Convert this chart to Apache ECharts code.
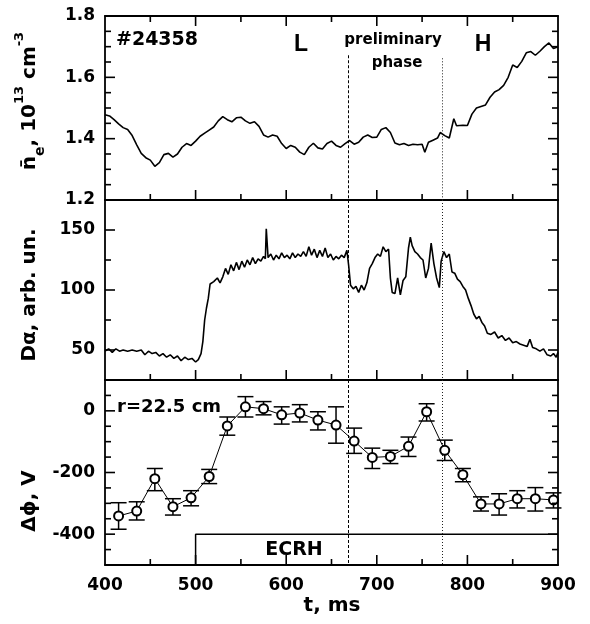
<!DOCTYPE html>
<html><head><meta charset="utf-8">
<script src="https://cdn.jsdelivr.net/npm/echarts@6/dist/echarts.min.js"></script>
<style>html,body{margin:0;padding:0;background:#fff}#c{width:590px;height:624px}</style>
</head><body><div id="c"></div>
<script>
// ---- data ----
const shotLabel = '#24358';
const neSeries = [
[400,1.478],[405,1.474],[410,1.462],[415,1.448],[420,1.436],[425,1.430],[430,1.410],[435,1.380],[440,1.352],[445,1.338],
[450,1.330],[455,1.310],[460,1.322],[465,1.348],[470,1.352],[475,1.340],[480,1.350],[485,1.372],[490,1.384],[495,1.378],
[500,1.392],[505,1.408],[510,1.418],[515,1.428],[520,1.438],[525,1.458],[530,1.472],[535,1.462],[540,1.455],[545,1.468],
[550,1.470],[555,1.458],[560,1.450],[565,1.455],[570,1.440],[575,1.412],[580,1.405],[585,1.412],[590,1.408],[595,1.384],
[600,1.368],[605,1.378],[610,1.372],[615,1.356],[620,1.348],[625,1.372],[630,1.385],[635,1.370],[640,1.366],[645,1.384],
[650,1.392],[655,1.378],[660,1.372],[665,1.384],[670,1.394],[675,1.382],[680,1.388],[685,1.405],[690,1.412],[695,1.404],
[700,1.405],[705,1.430],[710,1.436],[715,1.420],[720,1.386],[725,1.380],[730,1.384],[735,1.378],[740,1.382],[745,1.380],
[750,1.382],[753,1.356],[757,1.388],[762,1.395],[767,1.402],[770,1.420],[775,1.410],[780,1.402],[785,1.465],[788,1.442],
[795,1.444],[800,1.443],[805,1.480],[810,1.500],[815,1.505],[820,1.510],[825,1.535],[830,1.552],[835,1.560],[840,1.574],
[845,1.600],[850,1.640],[855,1.632],[860,1.652],[865,1.680],[870,1.684],[875,1.672],[880,1.685],[885,1.700],[890,1.712],
[895,1.694],[900,1.700]
];
const daSeries = [
[400,49],[404,51],[408,48],[412,51],[416,49],[420,50],[425,49],[430,50],[435,49],[440,50],[444,46],[448,49],[452,47],[456,48],
[460,45],[464,47],[468,44],[472,46],[476,43],[480,45],[484,41],[488,44],[492,42],[496,43],[500,40],[503,42],[506,47],[508,57],
[510,75],[512,85],[514,93],[516,105],[520,107],[524,110],[527,106],[530,111],[533,118],[536,113],[539,121],[542,116],[545,123],
[548,117],[551,124],[554,119],[557,125],[560,121],[563,127],[566,122],[569,126],[572,124],[575,128],[577,126],[578,151],[580,127],
[583,130],[586,125],[589,129],[592,126],[595,131],[598,127],[601,129],[604,126],[607,131],[610,127],[613,130],[616,128],[619,132],
[622,128],[625,136],[628,129],[631,134],[634,127],[637,133],[640,128],[643,135],[646,127],[649,130],[652,125],[655,128],[658,126],
[661,129],[664,127],[667,133],[669,120],[671,104],[674,101],[677,103],[680,98],[683,104],[686,100],[689,106],[692,118],[695,122],
[698,127],[701,130],[704,128],[707,136],[710,132],[713,134],[715,110],[717,98],[720,97],[723,110],[726,96],[729,108],[732,111],
[735,135],[737,144],[739,137],[742,132],[745,130],[748,127],[751,125],[754,110],[757,118],[760,139],[763,122],[766,110],[769,102],
[771,124],[774,132],[777,127],[780,130],[783,115],[786,114],[789,109],[792,107],[795,103],[798,100],[801,93],[804,87],[807,80],
[810,76],[813,78],[816,73],[819,70],[822,64],[826,63],[830,65],[834,60],[838,62],[842,58],[846,60],[850,56],[854,57],[858,55],
[862,54],[866,53],[869,59],[872,52],[876,51],[880,49],[884,51],[888,46],[892,45],[895,47],[898,44],[900,48]
];
const phiTimes = [415,435,455,475,495,515,535,555,575,595,615,635,655,675,695,715,735,755,775,795,815,835,855,875,895];
const phiValues = [-341,-325,-220,-311,-282,-213,-49,13,7,-13,-7,-30,-46,-98,-151,-148,-115,-3,-128,-207,-302,-302,-285,-285,-289];
const phiHigh = [-298,-295,-187,-285,-259,-190,-20,46,30,13,20,-3,13,-56,-121,-128,-85,23,-95,-187,-279,-269,-259,-249,-266];
const phiLow  = [-384,-354,-259,-338,-308,-236,-79,-20,-13,-43,-36,-62,-105,-138,-187,-171,-148,-33,-161,-230,-325,-338,-315,-325,-315];
const phaseStart = 668, phaseEnd = 772;
const ecrhStart = 500, ecrhLevel = -400;
const neTicks = [1.2, 1.4, 1.6, 1.8];
const daTicks = [50, 100, 150];
const phiTicks = [-400, -200, 0];
const timeTicks = [400, 500, 600, 700, 800, 900];

// ---- chart ----
const BLACK = '#000';
const FONT = 'DejaVu Sans';
const labelFont = {color: BLACK, fontFamily: FONT, fontWeight: 'bold', fontSize: 17};
const T_MIN = 400, T_MAX = 900;

function yAxesFor(g, min, max, majors, fmt) {
  const base = {type: 'value', gridIndex: g, min, max, splitLine: {show: false},
    axisLine: {show: true, onZero: false, lineStyle: {color: BLACK, width: 1.8}},
    axisTick: {show: false}, minorTick: {show: false}};
  return [
    Object.assign({}, base, {position: 'left',
      axisLabel: Object.assign({show: true, customValues: majors, margin: 10, formatter: fmt}, labelFont)}),
    Object.assign({}, base, {position: 'right', axisLabel: {show: false}})
  ];
}
function xAxisFor(g, pos, showLabels) {
  return {type: 'value', gridIndex: g, position: pos, min: T_MIN, max: T_MAX, interval: 100,
    splitLine: {show: false},
    axisLine: {show: true, onZero: false, lineStyle: {color: BLACK, width: 1.8}},
    axisTick: {show: false}, minorTick: {show: false},
    axisLabel: Object.assign({show: showLabels, customValues: timeTicks, margin: 12}, labelFont)};
}

// inward tick marks on all frame sides, placed through the axes' own scales
function tickMarks(xIdx, yIdx, yMin, yMax, yStep, yMajors, withTop) {
  const data = [];
  const n = Math.round((yMax - yMin) / yStep);
  for (let i = 1; i < n; i++) {
    const v = +(yMin + i * yStep).toFixed(6);
    data.push([0, v, yMajors.some(m => Math.abs(m - v) < 1e-6) ? 1 : 0]);
  }
  for (let t = T_MIN + 50; t < T_MAX; t += 50) data.push([1, t, t % 100 === 0 ? 1 : 0]);
  const st = {stroke: BLACK, lineWidth: 1.6};
  return {type: 'custom', xAxisIndex: xIdx, yAxisIndex: yIdx, data, silent: true, z: 10,
    encode: {x: 1, y: 1},
    renderItem: (params, api) => {
      const kind = api.value(0), v = api.value(1), L = api.value(2) ? 10 : 6;
      const kids = [];
      if (kind === 0) {
        const a = api.coord([T_MIN, v]), b = api.coord([T_MAX, v]);
        kids.push({type: 'line', shape: {x1: a[0], y1: a[1], x2: a[0] + L, y2: a[1]}, style: st});
        kids.push({type: 'line', shape: {x1: b[0] - L, y1: b[1], x2: b[0], y2: b[1]}, style: st});
      } else {
        const a = api.coord([v, yMin]);
        kids.push({type: 'line', shape: {x1: a[0], y1: a[1], x2: a[0], y2: a[1] - L}, style: st});
        if (withTop) {
          const b = api.coord([v, yMax]);
          kids.push({type: 'line', shape: {x1: b[0], y1: b[1], x2: b[0], y2: b[1] + L}, style: st});
        }
      }
      return {type: 'group', children: kids};
    }};
}

const grids = [
  {left: 105, width: 453, top: 16, height: 184},
  {left: 105, width: 453, top: 200, height: 180},
  {left: 105, width: 453, top: 380, height: 185}
];

const vline1 = {type: [3, 2], color: BLACK, width: 1};
const vline2 = {type: [1, 2], color: '#222', width: 1};
function phaseLines(yTop, yBot) {
  return {symbol: 'none', silent: true, label: {show: false}, animation: false,
    data: [
      [{coord: [phaseStart, yTop[0]], lineStyle: vline1}, {coord: [phaseStart, yBot]}],
      [{coord: [phaseEnd, yTop[1]], lineStyle: vline2}, {coord: [phaseEnd, yBot]}]
    ]};
}

const errData = phiTimes.map((t, i) => [t, phiLow[i], phiHigh[i]]);
const phiData = phiTimes.map((t, i) => [t, phiValues[i]]);

const option = {
  animation: false,
  backgroundColor: '#fff',
  grid: grids,
  xAxis: [xAxisFor(0, 'bottom', false), xAxisFor(0, 'top', false),
          xAxisFor(1, 'bottom', false), xAxisFor(2, 'bottom', true)],
  yAxis: [].concat(
    yAxesFor(0, 1.2, 1.8, neTicks, v => v.toFixed(1)),
    yAxesFor(1, 25, 175, daTicks, v => String(Math.round(v))),
    yAxesFor(2, -500, 100, phiTicks, v => String(Math.round(v)))
  ),
  series: [
    {type: 'line', xAxisIndex: 0, yAxisIndex: 0, data: neSeries, showSymbol: false,
     lineStyle: {color: BLACK, width: 1.6}, markLine: phaseLines([1.672, 1.662], 1.2)},
    {type: 'line', xAxisIndex: 2, yAxisIndex: 2, data: daSeries, showSymbol: false,
     lineStyle: {color: BLACK, width: 1.6}, markLine: phaseLines([175, 175], 25)},
    {type: 'line', xAxisIndex: 3, yAxisIndex: 4, data: [[ecrhStart, -500], [ecrhStart, ecrhLevel], [T_MAX, ecrhLevel]],
     showSymbol: false, lineStyle: {color: BLACK, width: 1.5},
     markLine: phaseLines([100, 100], -500)},
    {type: 'custom', xAxisIndex: 3, yAxisIndex: 4, data: errData, z: 3,
     renderItem: (params, api) => {
       const x = api.value(0);
       const pLo = api.coord([x, api.value(1)]);
       const pHi = api.coord([x, api.value(2)]);
       const w = 8, st = {stroke: BLACK, lineWidth: 1.5};
       return {type: 'group', children: [
         {type: 'line', shape: {x1: pLo[0], y1: pLo[1], x2: pHi[0], y2: pHi[1]}, style: st},
         {type: 'line', shape: {x1: pLo[0] - w, y1: pLo[1], x2: pLo[0] + w, y2: pLo[1]}, style: st},
         {type: 'line', shape: {x1: pHi[0] - w, y1: pHi[1], x2: pHi[0] + w, y2: pHi[1]}, style: st}
       ]};
     }},
    {type: 'line', xAxisIndex: 3, yAxisIndex: 4, data: phiData, z: 5,
     symbol: 'emptyCircle', symbolSize: 9, showSymbol: true,
     lineStyle: {color: BLACK, width: 1},
     itemStyle: {color: BLACK, borderColor: BLACK, borderWidth: 1.3}},
    tickMarks(0, 0, 1.2, 1.8, 0.05, neTicks, true),
    tickMarks(2, 2, 25, 175, 25, daTicks, false),
    tickMarks(3, 4, -500, 100, 50, phiTicks, false)
  ],
  graphic: [
    {type: 'text', x: 116, y: 40, style: {text: shotLabel, fill: BLACK, font: 'bold 19px "DejaVu Sans"', align: 'left', verticalAlign: 'middle'}},
    {type: 'text', x: 301, y: 45, style: {text: 'L', fill: BLACK, font: 'bold 23px "Liberation Sans"', align: 'center', verticalAlign: 'middle'}},
    {type: 'text', x: 483, y: 45, style: {text: 'H', fill: BLACK, font: 'bold 23px "Liberation Sans"', align: 'center', verticalAlign: 'middle'}},
    {type: 'text', x: 393, y: 40, style: {text: 'preliminary', fill: BLACK, font: 'bold 15px "DejaVu Sans"', align: 'center', verticalAlign: 'middle'}},
    {type: 'text', x: 397, y: 63, style: {text: 'phase', fill: BLACK, font: 'bold 15px "DejaVu Sans"', align: 'center', verticalAlign: 'middle'}},
    {type: 'text', x: 117, y: 407, style: {text: 'r=22.5 cm', fill: BLACK, font: 'bold 18px "DejaVu Sans"', align: 'left', verticalAlign: 'middle'}},
    {type: 'text', x: 294, y: 550, style: {text: 'ECRH', fill: BLACK, font: 'bold 19px "DejaVu Sans"', align: 'center', verticalAlign: 'middle'}},
    {type: 'text', x: 332, y: 606, style: {text: 't, ms', fill: BLACK, font: 'bold 20px "DejaVu Sans"', align: 'center', verticalAlign: 'middle'}},
    {type: 'text', x: 30, y: 101, rotation: Math.PI / 2, style: {
      text: '{n|n\u0304}{sub|e}{n|, 10}{sup|13}{n| cm}{sup|-3}', fill: BLACK, align: 'center', verticalAlign: 'middle',
      rich: {
        n: {fontFamily: FONT, fontWeight: 'bold', fontSize: 20, lineHeight: 34, verticalAlign: 'middle', fill: BLACK},
        sub: {fontFamily: FONT, fontWeight: 'bold', fontSize: 14, lineHeight: 14, verticalAlign: 'bottom', fill: BLACK},
        sup: {fontFamily: FONT, fontWeight: 'bold', fontSize: 13, lineHeight: 14, verticalAlign: 'top', fill: BLACK}
      }}},
    {type: 'text', x: 30, y: 295, rotation: Math.PI / 2, style: {text: 'D\u03b1, arb. un.', fill: BLACK, font: 'bold 20px "DejaVu Sans"', align: 'center', verticalAlign: 'middle'}},
    {type: 'text', x: 30, y: 501, rotation: Math.PI / 2, style: {text: '\u0394\u03d5, V', fill: BLACK, font: 'bold 20px "DejaVu Sans"', align: 'center', verticalAlign: 'middle'}}
  ]
};
const chart = echarts.init(document.getElementById('c'));
chart.setOption(option);
</script>
</body></html>
